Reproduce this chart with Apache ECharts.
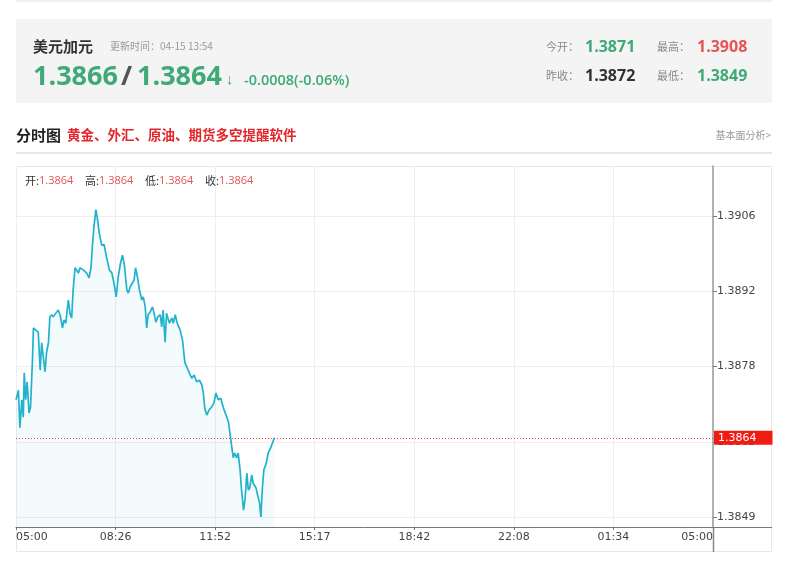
<!DOCTYPE html>
<html>
<head>
<meta charset="utf-8">
<script src="https://cdn.jsdelivr.net/npm/echarts@6/dist/echarts.min.js"></script>
<style>
html,body{margin:0;padding:0;background:#fff;}
#chart{width:800px;height:574px;}
</style>
</head>
<body>
<div id="chart"></div>
<script>
// ---- data ----
const times = ["05:00","05:05","05:08","05:12","05:15","05:17","05:20","05:23","05:27","05:30","05:34","05:36","05:41","05:46","05:50","05:53","05:56","06:00","06:03","06:07","06:10","06:14","06:17","06:24","06:27","06:31","06:36","06:39","06:43","06:48","06:52","06:55","06:58","07:02","07:05","07:09","07:12","07:19","07:26","07:31","07:35","07:38","07:41","07:45","07:48","07:52","07:57","08:02","08:07","08:13","08:18","08:22","08:27","08:31","08:36","08:40","08:44","08:49","08:52","08:56","09:00","09:04","09:07","09:11","09:15","09:20","09:23","09:27","09:30","09:33","09:37","09:42","09:46","09:49","09:53","09:58","10:01","10:04","10:08","10:11","10:17","10:22","10:25","10:29","10:33","10:39","10:44","10:49","10:53","10:58","11:03","11:08","11:13","11:19","11:24","11:27","11:30","11:34","11:39","11:44","11:49","11:53","11:58","12:03","12:08","12:14","12:19","12:22","12:26","12:29","12:32","12:36","12:39","12:43","12:46","12:50","12:53","12:57","13:00","13:03","13:07","13:10","13:16","13:19","13:23","13:26","13:29","13:32","13:37","13:41","13:46","13:54"];
const prices = [1.38712,1.38730,1.38659,1.38712,1.38679,1.38763,1.38712,1.38746,1.38687,1.38698,1.38787,1.38848,1.38844,1.38840,1.38768,1.38820,1.38821,1.38765,1.38801,1.38820,1.38869,1.38873,1.38869,1.38878,1.38882,1.38873,1.38848,1.38863,1.38857,1.38901,1.38873,1.38867,1.38920,1.38962,1.38958,1.38952,1.38962,1.38958,1.38952,1.38943,1.38963,1.39006,1.39039,1.39072,1.39056,1.39028,1.39005,1.39006,1.38982,1.38958,1.38952,1.38935,1.38907,1.38944,1.38971,1.38986,1.38967,1.38920,1.38914,1.38926,1.38924,1.38939,1.38962,1.38944,1.38920,1.38901,1.38907,1.38888,1.38848,1.38873,1.38878,1.38888,1.38873,1.38859,1.38869,1.38873,1.38850,1.38882,1.38821,1.38876,1.38857,1.38867,1.38857,1.38873,1.38857,1.38844,1.38825,1.38782,1.38774,1.38763,1.38753,1.38759,1.38746,1.38749,1.38740,1.38725,1.38696,1.38683,1.38693,1.38698,1.38706,1.38725,1.38712,1.38715,1.38698,1.38683,1.38670,1.38649,1.38621,1.38602,1.38611,1.38602,1.38611,1.38579,1.38541,1.38503,1.38522,1.38573,1.38541,1.38545,1.38570,1.38554,1.38545,1.38532,1.38518,1.38490,1.38545,1.38579,1.38592,1.38611,1.38621,1.38640];
const xTickLabels = ["05:00","08:26","11:52","15:17","18:42","22:08","01:34","05:00"];
const yTickValues = [1.3849, 1.386325, 1.38775, 1.389175, 1.3906];
const yTickLabels = ["1.3849","1.3863","1.3878","1.3892","1.3906"];
const yMin = 1.384711, yMax = 1.391547;
const lastPrice = 1.3864;
const lastLabel = "1.3864";
const sessionStart = "05:00";
const sessionMinutes = 1440;

// ---- helpers ----
function toMin(t){const p=t.split(":");return (+p[0])*60+(+p[1]);}
const base = toMin(sessionStart);
const seriesData = times.map((t,i)=>[((toMin(t)-base)+1440)%1440, prices[i]]);
const xInterval = sessionMinutes/(xTickLabels.length-1);

const GREEN = '#3fa977', RED = '#e35555', TITLE_RED = '#e3262b';
const CJK = '"Noto Sans CJK SC", "Microsoft YaHei", sans-serif';
const NUM = '"Open Sans", "Noto Sans", sans-serif';
const AXF = '"DejaVu Sans", Verdana, sans-serif';

const chart = echarts.init(document.getElementById('chart'), null, {renderer:'canvas'});

function txt(x,y,text,fs,color,opts){
  return Object.assign({type:'text', x:x, y:y, silent:true, z:10,
    style:Object.assign({text:text, fontSize:fs, fill:color, fontFamily:CJK, verticalAlign:'middle', align:'left'}, opts||{})});
}

const graphics = [
  {type:'rect', shape:{x:16,y:0,width:756,height:2}, style:{fill:'#f0f0f0'}, silent:true},
  {type:'rect', shape:{x:16,y:19,width:756,height:84}, style:{fill:'#f4f4f4'}, silent:true},
  txt(33,46,'美元加元',15,'#333',{fontWeight:'bold'}),
  txt(110,46,'更新时间：04-15 13:54',10,'#999'),
  txt(33,77,'1.3866',27,GREEN,{fontFamily:NUM,fontWeight:'bold'}),
  txt(121,77,'/',27,'#555',{fontFamily:NUM,fontWeight:'bold'}),
  txt(137,77,'1.3864',27,GREEN,{fontFamily:NUM,fontWeight:'bold'}),
  txt(226,80,'↓',15,GREEN,{fontFamily:NUM,fontWeight:'bold'}),
  txt(244,81,'-0.0008(-0.06%)',14.5,GREEN,{fontFamily:NUM,fontWeight:600}),
  txt(546,47,'今开：',11,'#888'),
  txt(585,47,'1.3871',16,GREEN,{fontFamily:NUM,fontWeight:'bold'}),
  txt(657,47,'最高：',11,'#888'),
  txt(697,47,'1.3908',16,RED,{fontFamily:NUM,fontWeight:'bold'}),
  txt(546,76,'昨收：',11,'#888'),
  txt(585,76,'1.3872',16,'#333',{fontFamily:NUM,fontWeight:'bold'}),
  txt(657,76,'最低：',11,'#888'),
  txt(697,76,'1.3849',16,GREEN,{fontFamily:NUM,fontWeight:'bold'}),
  txt(16,135,'分时图',15,'#222',{fontWeight:'bold'}),
  txt(67,135,'黄金、外汇、原油、期货多空提醒软件',13.5,TITLE_RED,{fontWeight:'bold'}),
  txt(771,135,'基本面分析>',10,'#999',{align:'right'}),
  {type:'rect', shape:{x:16,y:152,width:756,height:2}, style:{fill:'#e8e8e8'}, silent:true},
  {type:'rect', shape:{x:16.5,y:166.5,width:755,height:385}, style:{fill:'none',stroke:'#e8e8e8',lineWidth:1}, silent:true, z:-1},
  txt(25,181,'开:',11,'#333'), txt(39,181,'1.3864',11,'#e05555',{fontFamily:NUM}),
  txt(85,181,'高:',11,'#333'), txt(99,181,'1.3864',11,'#e05555',{fontFamily:NUM}),
  txt(145,181,'低:',11,'#333'), txt(159,181,'1.3864',11,'#e05555',{fontFamily:NUM}),
  txt(205,181,'收:',11,'#333'), txt(219,181,'1.3864',11,'#e05555',{fontFamily:NUM}),
  {type:'line', shape:{x1:713,y1:527.5,x2:772,y2:527.5}, style:{stroke:'#777',lineWidth:1}, silent:true},
  {type:'line', shape:{x1:713.5,y1:527,x2:713.5,y2:552}, style:{stroke:'#888',lineWidth:1.5}, silent:true}
];

const option = {
  animation:false,
  backgroundColor:'#fff',
  grid:{left:16, right:87, top:166, bottom:47, containLabel:false},
  xAxis:{
    type:'value', min:0, max:sessionMinutes, interval:xInterval,
    axisLine:{show:true, onZero:false, lineStyle:{color:'#777', width:1}},
    axisTick:{show:true, length:3, lineStyle:{color:'#777'}},
    axisLabel:{
      color:'#444', fontSize:11, fontFamily:AXF, margin:5,
      alignMinLabel:'left', alignMaxLabel:'right',
      formatter:function(v){const i=Math.round(v/xInterval);return xTickLabels[i]||'';}
    },
    splitLine:{show:true, lineStyle:{color:'#eeeeee', width:1}}
  },
  yAxis:{
    type:'value', position:'right', min:yMin, max:yMax,
    axisLine:{show:true, onZero:false, lineStyle:{color:'#999', width:1.5}},
    axisTick:{show:true, length:4, inside:false, customValues:yTickValues, lineStyle:{color:'#777'}},
    axisLabel:{
      color:'#444', fontSize:11, fontFamily:AXF, margin:4,
      customValues:yTickValues,
      formatter:function(v){let best=0;for(let i=0;i<yTickValues.length;i++){if(Math.abs(yTickValues[i]-v)<Math.abs(yTickValues[best]-v))best=i;}return yTickLabels[best];}
    },
    splitLine:{show:true, lineStyle:{color:'#eeeeee', width:1}}
  },
  series:[{
    type:'line', data:seriesData, showSymbol:false, symbol:'none',
    lineStyle:{color:'#22b2cc', width:1.7},
    areaStyle:{origin:'start', color:'rgba(34,178,204,0.08)'},
    markLine:{
      silent:true, symbol:'none', animation:false,
      lineStyle:{color:'#e54848', type:[1,2], width:1},
      label:{
        show:true, position:'end', distance:1,
        formatter:function(){return lastLabel;},
        color:'#fff', backgroundColor:'#ee1c12', fontSize:11,
        fontFamily:AXF,
        padding:[2,16,1,4], borderRadius:0
      },
      data:[[{coord:[0,lastPrice]},{coord:[sessionMinutes,lastPrice]}]]
    }
  }],
  graphic:graphics
};
chart.setOption(option);
</script>
</body>
</html>
